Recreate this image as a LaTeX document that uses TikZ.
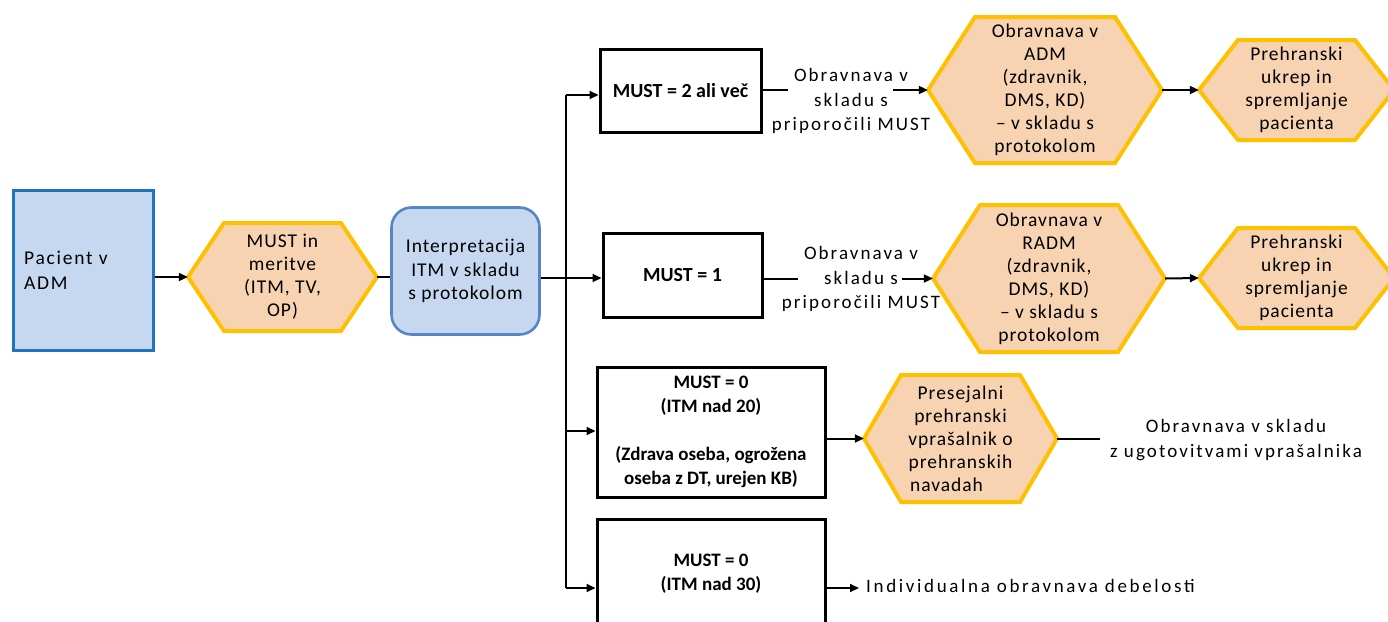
\documentclass[tikz,border=0pt]{standalone}
\usepackage{fontspec}
\setmainfont{Carlito}
\newfontfamily\spc[LetterSpace=11]{Carlito}
\newfontfamily\spcw[LetterSpace=14]{Carlito}
\newfontfamily\spcs[LetterSpace=5]{Carlito}
\newfontfamily\spcp[LetterSpace=9]{Carlito}
\usetikzlibrary{calc,arrows.meta}
\definecolor{peach}{HTML}{F8D3B2}
\definecolor{gold}{HTML}{FFC000}
\definecolor{lblue}{HTML}{C5D8F0}
\definecolor{bblue}{HTML}{1F74C0}
\definecolor{rblue}{HTML}{5585C5}
\newcommand{\hexnode}[7]{%
  \filldraw[hexshape] (#2,{(#4+#5)/2}) -- ({#2+#6},#4) -- ({#3-#6},#4) -- (#3,{(#4+#5)/2}) -- ({#3-#6},#5) -- ({#2+#6},#5) -- cycle;
  \node[hextext, minimum width={(#3-#2)*1pt}, minimum height={(#5-#4)*1pt}] (#1) at ({(#2+#3)/2},{(#4+#5)/2}) {#7};
}
\begin{document}
\begin{tikzpicture}[x=1pt,y=-1pt,
  hexshape/.style={fill=peach, draw=gold, line width=4pt, line join=miter},
  hextext/.style={inner sep=0pt, align=center, font=\spcs\fontsize{19.5}{23}\selectfont},
  boxb/.style={draw=black, line width=3pt, fill=white, inner sep=0pt, align=center, font=\bfseries\fontsize{20}{24}\selectfont},
  lbl/.style={inner sep=0pt, align=center, font=\spc\fontsize{19}{24.5}\selectfont},
  conn/.style={line width=2pt},
  arr/.style={line width=2pt, -{Triangle[length=9pt,width=8pt]}},
]
\useasboundingbox (0,0) rectangle (1388,621);
\fill[white] (0,0) rectangle (1388,621);

% left part
\node[draw=bblue, fill=lblue, line width=3pt, minimum width=140pt, minimum height=160pt, inner sep=0pt] (pac) at (83,270) {};
\node[lbl, align=left, anchor=west, font=\spcp\fontsize{19.5}{25}\selectfont] (pactxt) at (24,270) {Pacient v\\ADM};

\hexnode{hex1}{188}{377}{223}{331}{36}{MUST in\\meritve\\(ITM, TV,\\OP)}

\node[draw=rblue, fill=lblue, line width=2.6pt, rounded corners=20pt, minimum width=148pt, minimum height=127pt, inner sep=0pt, align=center, font=\spcs\fontsize{19.5}{23.5}\selectfont] (interp) at (465.5,271) {Interpretacija\\ITM v skladu\\s protokolom};

% decision boxes
\node[boxb, minimum width=161pt, minimum height=83pt] (box1) at (680.5,90.5) {MUST = 2 ali več};
\node[boxb, minimum width=159pt, minimum height=84pt] (box2) at (682.5,275) {MUST = 1};
\node[boxb, minimum width=228pt, minimum height=130pt, font=\bfseries\fontsize{19}{24}\selectfont] (box3) at (711,432) {MUST = 0\\(ITM nad 20)\\[24pt](Zdrava oseba, ogrožena\\oseba z DT, urejen KB)};
\node[boxb, minimum width=228pt, minimum height=150pt] (box4) at (711,594) {};
\node[inner sep=0pt, align=center, font=\bfseries\fontsize{19}{24}\selectfont] (box4txt) at (711,574) {MUST = 0\\(ITM nad 30)};

% hexagons right
\hexnode{hex2}{928}{1162}{17}{163}{47}{Obravnava v\\ADM\\(zdravnik,\\DMS, KD)\\– v skladu s\\protokolom}
\hexnode{hex3}{1199}{1394}{40}{140}{39}{Prehranski\\ukrep in\\spremljanje\\pacienta}
\hexnode{hex4}{933}{1165}{205}{352}{47}{Obravnava v\\RADM\\(zdravnik,\\DMS, KD)\\– v skladu s\\protokolom}
\hexnode{hex5}{1199}{1394}{228}{328}{39}{Prehranski\\ukrep in\\spremljanje\\pacienta}
\hexnode{hex6}{864}{1057}{375}{502}{37}{Presejalni\\prehranski\\vprašalnik o\\prehranskih\\navadah\hspace*{28pt}}

% labels
\node[lbl] (lab1) at (851,101) {Obravnava v\\skladu s\\priporočili MUST};
\node[lbl] (lab2) at (861,279) {Obravnava v\\skladu s\\priporočili MUST};
\node[lbl] (lab3) at (1236,440) {Obravnava v skladu\\z ugotovitvami vprašalnika};
\node[lbl, anchor=west, font=\spcw\fontsize{19}{24.5}\selectfont] (lab4) at (866,586) {Individualna obravnava debelosti};

% coordinates
\coordinate (m) at (566,278);
\coordinate (t1) at (566,95);
\coordinate (t3) at (566,431);
\coordinate (t4) at (566,588);
\coordinate (c1a) at (788,91);
\coordinate (c1b) at (893,91);
\coordinate (c2a) at (798,278);
\coordinate (c2b) at (902,278);
\coordinate (c3) at (1100,440);
\coordinate (c4) at (859,588);

% connectors
\draw[arr] (hex1.west -| pac.east) -- (hex1.west);
\draw[conn] (hex1.east) -- (hex1.east -| interp.west);
\draw[arr] (m -| interp.east) -- (m -| box2.west);
\draw[conn] (t1) -- (t4);
\draw[arr] (t1) -- (t1 -| box1.west);
\draw[arr] (t3) -- (t3 -| box3.west);
\draw[arr] (t4) -- (t4 -| box4.west);

\draw[conn] (box1.east |- hex2.west) -- (c1a |- hex2.west);
\draw[arr] (c1b |- hex2.west) -- (hex2.west);
\draw[arr] (hex2.east) -- (hex3.west);

\draw[conn] (box2.east |- hex4.west) -- (c2a |- hex4.west);
\draw[arr] (c2b |- hex4.west) -- (hex4.west);
\draw[arr] (hex4.east) -- (hex5.west);

\draw[arr] (box3.east |- hex6.west) -- (hex6.west);
\draw[conn] (hex6.east) -- (c3 |- hex6.east);

\draw[arr] (t4 -| box4.east) -- (c4);
\end{tikzpicture}
\end{document}
